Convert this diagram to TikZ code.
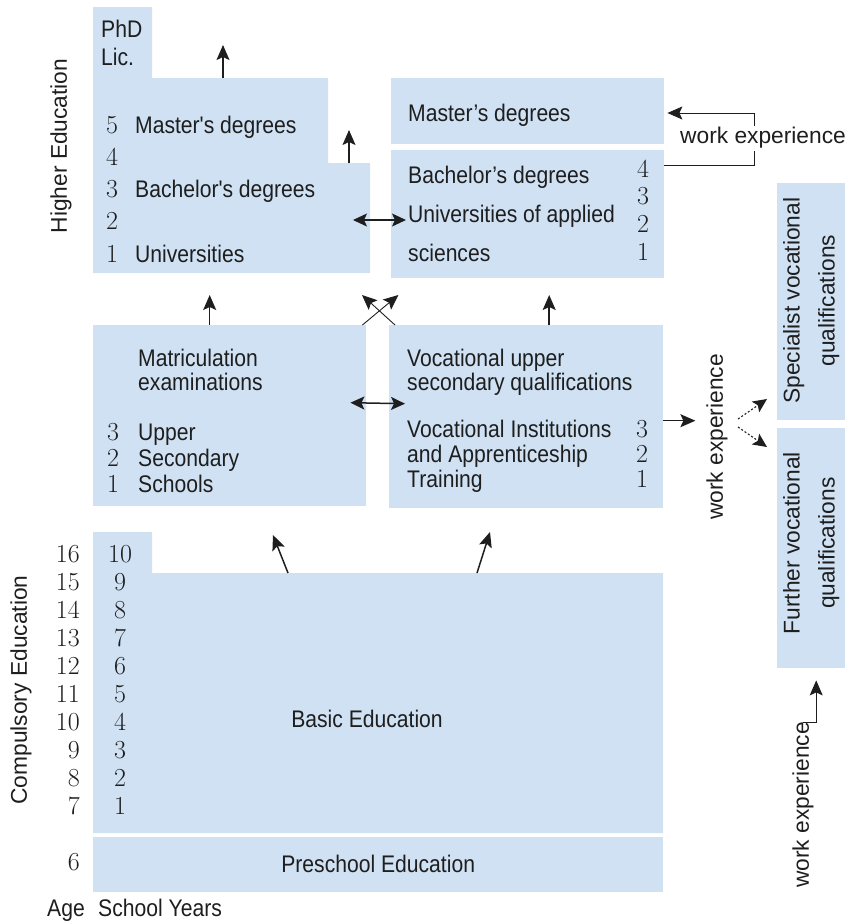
\documentclass[tikz,border=0pt]{standalone}
\usepackage{fontspec}
\newfontfamily\edufont{Liberation Sans}[FakeStretch=0.88]
\newfontfamily\sidefont{Liberation Sans}
\usetikzlibrary{arrows.meta}

\definecolor{edublue}{RGB}{207,225,243}
\definecolor{edutext}{RGB}{30,30,30}

\tikzset{
  box/.style={fill=edublue, inner sep=0pt, anchor=north west},
  lbl/.style={font=\edufont\fontsize{24}{25}\selectfont, text=edutext, inner sep=0pt},
  num/.style={font=\fontsize{26}{28}\selectfont, text=edutext, inner sep=0pt},
  side/.style={font=\sidefont\fontsize{22.75}{35}\selectfont, text=edutext, inner sep=0pt},
  arr/.style={-{Stealth[length=15pt,width=13pt,inset=3pt]}, line width=1.5pt, draw=edutext},
  thinarr/.style={-{Stealth[length=15pt,width=13pt,inset=3pt]}, line width=0.9pt, draw=edutext},
  dbl/.style={{Stealth[length=14pt,width=13pt,inset=3pt]}-{Stealth[length=14pt,width=13pt,inset=3pt]}, line width=1.5pt, draw=edutext},
  darr/.style={-{Stealth[length=14pt,width=13pt,inset=3pt]}, line width=1.1pt, draw=edutext, dash pattern=on 2pt off 2pt},
}

\begin{document}
\begin{tikzpicture}[x=1pt, y=-1pt]
\useasboundingbox (0,0) rectangle (845,922);

% higher education
\fill[edublue] (93,7) -- (152,7) -- (152,78) -- (328,78) -- (328,163) -- (370,163) -- (370,273) -- (93,273) -- cycle;
\coordinate (univ-top) at (223,78);
\coordinate (univ-step) at (349,163);
\coordinate (univ-e) at (370,220);
\node[box, minimum width=273, minimum height=66] (masters) at (391,78) {};
\node[box, minimum width=273, minimum height=128] (bachelors) at (391,150) {};

\node[side, rotate=90] (higher) at (61,146) {Higher Education};
\node[lbl, anchor=base west] (phd) at (101,37) {PhD};
\node[lbl, anchor=base west] (lic) at (101,65) {Lic.};
\foreach \n [count=\i from 0] in {5,4,3,2,1}
  \node[num, anchor=base] (uyear\n) at (112,{133+32.25*\i}) {\n};
\node[lbl, anchor=base west] (unimast) at (135,133) {Master's degrees};
\node[lbl, anchor=base west] (unibach) at (135,197.5) {Bachelor's degrees};
\node[lbl, anchor=base west] (uniname) at (135,262) {Universities};

\node[lbl, anchor=base west] (uasmast) at (408,121) {Master’s degrees};
\node[lbl, anchor=base west] (uasbach) at (408,183) {Bachelor’s degrees};
\node[lbl, anchor=base west] (uasname) at (408,222) {Universities of applied};
\node[lbl, anchor=base west] (uassci) at (408,261) {sciences};
\foreach \n [count=\i from 0] in {4,3,2,1}
  \node[num, anchor=base] (uasyear\n) at (643,{177+27.7*\i}) {\n};

% work experience into master's
\node[side, anchor=base] (wexptop) at (763,143) {work experience};
\draw[line width=0.9pt, draw=edutext] (bachelors.north east |- 0,165) -| ([xshift=-9pt,yshift=-3pt]wexptop.south);
\draw[thinarr] ([xshift=-9pt]wexptop.north) |- ([xshift=3pt]masters.east |- 0,113);

% upper secondary
\node[box, minimum width=273, minimum height=181] (matric) at (93,325) {};
\node[box, minimum width=274, minimum height=183] (vocat) at (389,325) {};
\node[lbl, anchor=base west] (mattxt) at (138,366) {Matriculation};
\node[lbl, anchor=base west] (examtxt) at (138,390) {examinations};
\foreach \n/\t [count=\i from 0] in {3/Upper,2/Secondary,1/Schools} {
  \node[num, anchor=base] (upyear\n) at (113,{440+26*\i}) {\n};
  \node[lbl, anchor=base west] (uptxt\n) at (138,{440+26*\i}) {\t};
}
\node[lbl, anchor=base west] (vocup) at (407,366) {Vocational upper};
\node[lbl, anchor=base west] (vocsec) at (407,390) {secondary qualifications};
\foreach \n/\t [count=\i from 0] in {3/Vocational Institutions,2/and Apprenticeship,1/Training} {
  \node[num, anchor=base] (vocyear\n) at (642,{437+25*\i}) {\n};
  \node[lbl, anchor=base west] (voctxt\n) at (407,{437+25*\i}) {\t};
}

% vocational qualifications
\node[box, minimum width=68, minimum height=237] (special) at (777,183) {};
\node[box, minimum width=68, minimum height=240] (further) at (777,428) {};
\node[side, rotate=90, align=center] (spectxt) at ([yshift=1pt]special.center) {Specialist vocational\\qualifications};
\node[side, rotate=90, align=center] (furttxt) at ([yshift=5pt]further.center) {Further vocational\\qualifications};
\node[side, rotate=90] (wexpmid) at (717,437) {work experience};
\node[side, rotate=90] (wexpbot) at (803,805) {work experience};
\coordinate (fork) at (738,423);

% basic education
\fill[edublue] (93,532) -- (152,532) -- (152,573) -- (663,573) -- (663,833) -- (93,833) -- cycle;
\coordinate (basic-l) at (288,573);
\coordinate (basic-r) at (477,573);
\node[lbl, anchor=base] (basictxt) at (367,727) {Basic Education};
\node[box, minimum width=570, minimum height=55] (preschool) at (93,837) {};
\node[lbl, anchor=base] (pretxt) at (preschool.center |- 0,872) {Preschool Education};
\node[side, rotate=90] (compul) at (21,690) {Compulsory Education};
\foreach \a [count=\i from 0] in {16,15,...,7} {
  \pgfmathtruncatemacro\yr{\a-6}
  \node[num, anchor=base east] (age\a) at (80,{562+28*\i}) {\a};
  \node[num, anchor=base] (year\yr) at (120,{562+28*\i}) {\yr};
}
\node[num, anchor=base east] (age6) at (80,870) {6};
\node[lbl, anchor=base west] (agehead) at (47,916) {Age};
\node[lbl, anchor=base west] (yearhead) at (98,916) {School Years};

% arrows
\draw[arr] (univ-top) -- ++(0,-33);
\draw[arr] (univ-step) -- ++(0,-33);
\draw[dbl] ([xshift=-17pt]univ-e) -- ([xshift=15pt]bachelors.west |- univ-e);
\draw[arr] ([xshift=-20pt]matric.north) -- ++(0,-30);
\draw[thinarr] ([xshift=-4pt]matric.north east) -- ++(36,-30);
\draw[thinarr] ([xshift=6pt]vocat.north west) -- ++(-33,-30);
\draw[arr] ([xshift=23pt]vocat.north) -- ++(0,-30);
\draw[dbl] ([xshift=-16pt,yshift=13pt]matric.east) -- ([xshift=16pt,yshift=13pt]vocat.west);
\draw[arr] ([yshift=-4pt]vocat.east) -- ++(32,0);
\draw[darr] ([yshift=4pt]fork) -- ++(29,-20);
\draw[darr] ([yshift=-4pt]fork) -- ++(29,20);
\draw[arr] (basic-l) -- ++(-15,-38);
\draw[arr] (basic-r) -- ++(13,-41);
\draw[thinarr] (wexpbot.east) -| ([xshift=5pt,yshift=-12pt]further.south);
\end{tikzpicture}
\end{document}
